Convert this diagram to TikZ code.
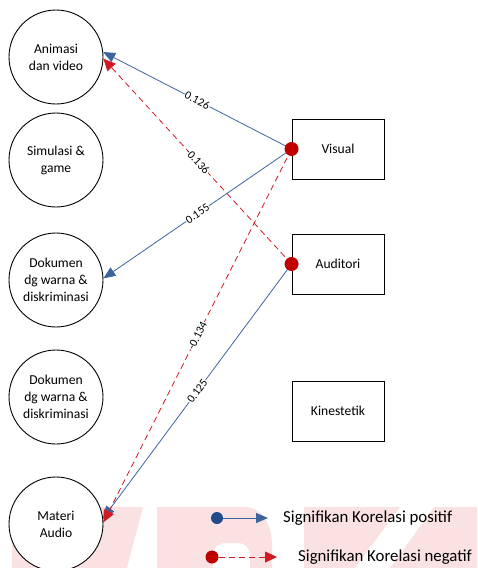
\documentclass[tikz,border=0pt]{standalone}
\usepackage{fontspec}
\setmainfont{Carlito}
\usetikzlibrary{arrows.meta}
\definecolor{posblue}{RGB}{62,100,160}
\definecolor{tipblue}{RGB}{35,75,140}
\definecolor{negred}{RGB}{210,25,35}
\definecolor{dotred}{RGB}{192,0,0}
\definecolor{wm}{RGB}{250,226,226}
\begin{document}
\begin{tikzpicture}[x=1pt,y=-1pt,
  circnode/.style={circle, draw=black, line width=0.9pt, fill=white, minimum size=94pt, inner sep=0pt, align=center, font=\fontsize{13.6}{17}\selectfont},
  boxnode/.style={rectangle, draw=black, line width=0.9pt, fill=white, minimum width=92pt, minimum height=60pt, inner sep=0pt, font=\fontsize{13.6}{17}\selectfont},
  dotnode/.style={circle, fill=dotred, minimum size=14pt, inner sep=0pt},
  poslink/.style={draw=posblue, line width=0.8pt, -{Triangle[length=12pt,width=10pt]}},
  neglink/.style={draw=negred, line width=0.8pt, dash pattern=on 6pt off 4pt, -{Triangle[length=12pt,width=11pt]}},
  elab/.style={midway, sloped, fill=white, inner sep=0.5pt, text=black, font=\fontsize{11.5}{13}\selectfont},
  legtext/.style={anchor=west, inner sep=0pt, font=\fontsize{16.8}{20}\selectfont}]
\useasboundingbox (0,0) rectangle (477,568);
% watermark
\fill[wm] (12,507) -- (143,507) -- (127,568) -- (12,568) -- cycle;
\fill[wm,even odd rule] (157,507) -- (245,507) .. controls (262,507) and (272,525) .. (272,545) -- (272,568) -- (157,568) -- cycle
  (213,568) -- (213,555) .. controls (213,548) and (218,543) .. (225,543) -- (238,543) .. controls (245,543) and (250,548) .. (250,555) -- (250,568) -- cycle;
\fill[wm] (304,507) -- (400,507) -- (355,568) -- (304,568) -- cycle;
\fill[wm] (434,507) -- (477,507) -- (477,568) -- (390,568) -- cycle;
% circles
\node[circnode] (anim) at (56,57) {Animasi\\dan video};
\node[circnode] (simu) at (56,160) {Simulasi \&\\game};
\node[circnode] (dok1) at (56,280) {Dokumen\\dg warna \&\\diskriminasi};
\node[circnode] (dok2) at (56,397) {Dokumen\\dg warna \&\\diskriminasi};
\node[circnode] (mat) at (56,524) {Materi\\Audio};
% boxes
\node[boxnode] (vis) at (338,149) {Visual};
\node[boxnode] (aud) at (338,264) {Auditori};
\node[boxnode] (kin) at (338,411) {Kinestetik};
\coordinate (vd) at (vis.west);
\coordinate (ad) at (aud.west);
% links
\draw[poslink] (vd) -- (anim.6) node[elab] {0.126};
\draw[neglink] (ad) -- (anim.-2) node[elab] {-0.136};
\draw[poslink] (vd) -- (dok1.2) node[elab] {0.155};
\draw[poslink] (ad) -- (mat.7) node[elab] {0.125};
\draw[neglink] (vd) -- (mat.2) node[elab] {-0.134};
\node[dotnode] (vdot) at (vd) {};
\node[dotnode] (adot) at (ad) {};
% legend
\node[dotnode, fill=tipblue, minimum size=12pt] (ldb) at (217,518) {};
\coordinate (lab) at (268,518);
\draw[poslink] (ldb) -- (lab);
\node[legtext] (lpos) at (283,518) {Signifikan Korelasi positif};
\node[dotnode, minimum size=13pt] (ldr) at (212,557) {};
\coordinate (lar) at (277,557);
\draw[neglink] (ldr) -- (lar);
\node[legtext] (lneg) at (298,557) {Signifikan Korelasi negatif};
\end{tikzpicture}
\end{document}
